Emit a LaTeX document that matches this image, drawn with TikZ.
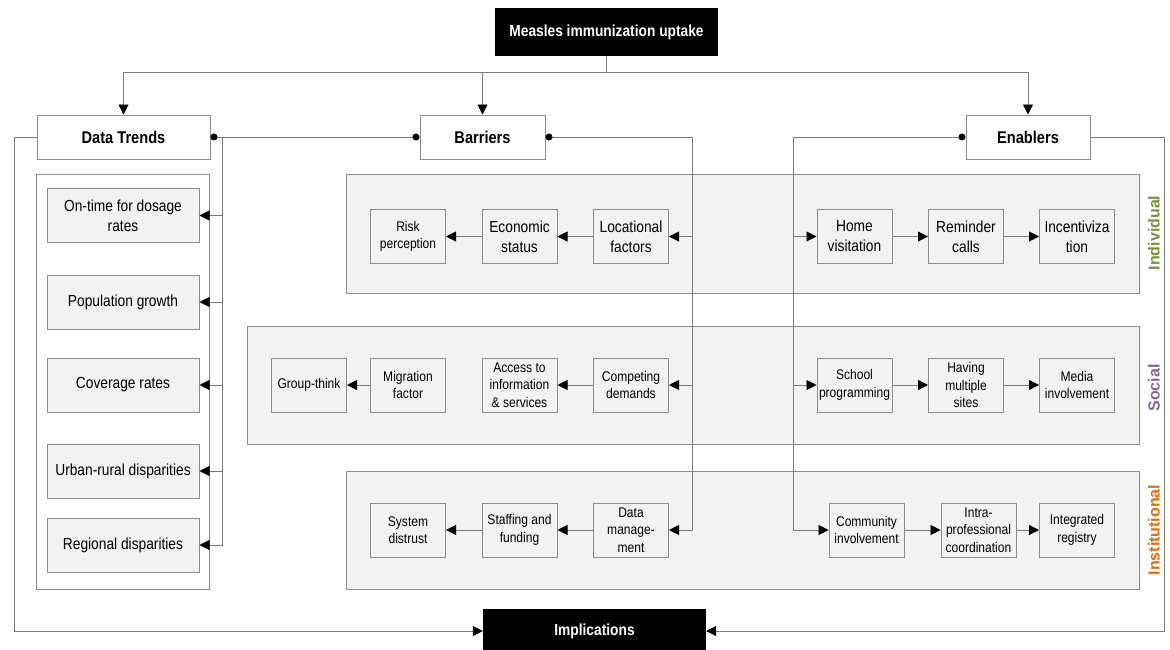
\documentclass[tikz,border=0pt]{standalone}
\usepackage{fontspec}
\setmainfont{Liberation Sans}[FakeStretch=0.86]
\newfontfamily\labelfont{Liberation Sans}
\usetikzlibrary{arrows.meta}
\definecolor{linegray}{HTML}{7A7A7A}
\definecolor{boxgray}{HTML}{8C8C8C}
\definecolor{itemfill}{HTML}{F2F2F2}
\definecolor{indgreen}{HTML}{77933C}
\definecolor{socpurple}{HTML}{8064A2}
\definecolor{instorange}{HTML}{E46C0A}
\tikzset{
  blackbox/.style={fill=black, text=white, inner sep=0pt, font=\bfseries\fontsize{16}{19}\selectfont},
  headbox/.style={draw=boxgray, fill=white, line width=1pt, inner sep=0pt, font=\bfseries\fontsize{17}{20}\selectfont},
  container/.style={draw=boxgray, line width=1pt},
  itembox/.style={draw=boxgray, fill=itemfill, line width=1pt, inner sep=0pt, align=center, minimum width=75pt, minimum height=54pt, font=\fontsize{14}{17.5}\selectfont},
  bigitem/.style={itembox, font=\fontsize{16}{20}\selectfont},
  dtitem/.style={itembox, minimum width=152pt, font=\fontsize{16}{20}\selectfont},
  conn/.style={draw=linegray, line width=0.9pt},
  arr/.style={conn, -{Triangle[length=10pt,width=10pt,black]}},
  dotarr/.style={conn, {Circle[length=7pt,black]}-{Triangle[length=10pt,width=10pt,black]}},
  dotdot/.style={conn, {Circle[length=7pt,black]}-{Circle[length=7pt,black]}},
  sidelabel/.style={rotate=90, font=\labelfont\bfseries\fontsize{16}{16}\selectfont}
}
\begin{document}
\begin{tikzpicture}[x=1pt, y=-1pt]
\useasboundingbox (0,0) rectangle (1170,649);
% containers
\node[container, fill=white, minimum width=173pt, minimum height=415pt, inner sep=0pt] (dtcont) at (122.5,381.5) {};
\node[container, fill=itemfill, minimum width=793pt, minimum height=119pt, inner sep=0pt] (grpInd) at (742.5,233.5) {};
\node[container, fill=itemfill, minimum width=892pt, minimum height=118pt, inner sep=0pt] (grpSoc) at (693,385) {};
\node[container, fill=itemfill, minimum width=793pt, minimum height=118pt, inner sep=0pt] (grpInst) at (742.5,530) {};
% top and head boxes
\node[blackbox, minimum width=223pt, minimum height=48pt] (measles) at (606.5,32) {Measles immunization uptake};
\node[headbox, minimum width=173pt, minimum height=44pt] (dt) at (123.5,137) {Data Trends};
\node[headbox, minimum width=125pt, minimum height=44pt] (barriers) at (482.5,137) {Barriers};
\node[headbox, minimum width=124pt, minimum height=44pt] (enablers) at (1028,137) {Enablers};
\node[blackbox, minimum width=223pt, minimum height=44pt] (impl) at (594.5,631) {Implications};
% data trend items
\node[dtitem] (ontime) at (123,215.5) {On-time for dosage\\rates};
\node[dtitem] (popgrowth) at (123,302) {Population growth};
\node[dtitem] (coverage) at (123,385) {Coverage rates};
\node[dtitem] (urbanrural) at (123,471) {Urban-rural disparities};
\node[dtitem] (regional) at (123,545) {Regional disparities};
% individual row
\node[itembox] (risk) at (408,236.5) {Risk\\perception};
\node[bigitem] (economic) at (519.5,236.5) {Economic\\status};
\node[bigitem] (locational) at (631,236.5) {Locational\\factors};
\node[bigitem] (home) at (854.5,236.5) {Home\\visitation};
\node[bigitem] (reminder) at (966,236.5) {Reminder\\calls};
\node[bigitem] (incent) at (1077,236.5) {Incentiviza\\tion};
% social row
\node[itembox] (groupthink) at (309,385) {Group-think};
\node[itembox] (migration) at (408,385) {Migration\\factor};
\node[itembox] (access) at (519.5,385) {Access to\\information\\\& services};
\node[itembox] (competing) at (631,385) {Competing\\demands};
\node[itembox] (school) at (854.5,385) {School\\programming};
\node[itembox] (multiple) at (966,385) {Having\\multiple\\sites};
\node[itembox] (media) at (1077,385) {Media\\involvement};
% institutional row
\node[itembox] (distrust) at (408,530) {System\\distrust};
\node[itembox] (staffing) at (519.5,530) {Staffing and\\funding};
\node[itembox] (datamgmt) at (631,530) {Data\\manage-\\ment};
\node[itembox] (community) at (866.5,530) {Community\\involvement};
\node[itembox] (intra) at (978.5,530) {Intra-\\professional\\coordination};
\node[itembox] (registry) at (1077,530) {Integrated\\registry};
% side labels
\node[sidelabel, text=indgreen] (lblInd) at (1154,233) {Individual};
\node[sidelabel, text=socpurple] (lblSoc) at (1154,388) {Social};
\node[sidelabel, text=instorange] (lblInst) at (1154,530) {Institutional};
% coordinates
\coordinate (topjoin) at (606.5,72);
\coordinate (dtbus) at (222,137);
\coordinate (barbus) at (692,137);
\coordinate (enbus) at (793,137);
\coordinate (leftout) at (14,137);
\coordinate (rightout) at (1164,137);
% top connectors
\draw[conn] (measles.south) -- (topjoin);
\draw[arr] (topjoin) -| (dt.north);
\draw[arr] (topjoin) -| (barriers.north);
\draw[arr] (topjoin) -| (enablers.north);
% data trends bus
\draw[dotdot] (dt.east) -- (barriers.west);
\draw[conn] (dtbus) |- (regional.east);
\draw[arr] (dtbus |- ontime.east) -- (ontime.east);
\draw[arr] (dtbus |- popgrowth.east) -- (popgrowth.east);
\draw[arr] (dtbus |- coverage.east) -- (coverage.east);
\draw[arr] (dtbus |- urbanrural.east) -- (urbanrural.east);
\draw[arr] (dtbus |- regional.east) -- (regional.east);
% barriers bus
\draw[dotarr] (barriers.east) -- (barbus) |- (datamgmt.east);
\draw[arr] (barbus |- locational.east) -- (locational.east);
\draw[arr] (barbus |- competing.east) -- (competing.east);
% enablers bus
\draw[dotarr] (enablers.west) -- (enbus) |- (community.west);
\draw[arr] (enbus |- home.west) -- (home.west);
\draw[arr] (enbus |- school.west) -- (school.west);
% chains
\draw[arr] (locational.west) -- (economic.east);
\draw[arr] (economic.west) -- (risk.east);
\draw[arr] (competing.west) -- (access.east);
\draw[arr] (migration.west) -- (groupthink.east);
\draw[arr] (datamgmt.west) -- (staffing.east);
\draw[arr] (staffing.west) -- (distrust.east);
\draw[arr] (home.east) -- (reminder.west);
\draw[arr] (reminder.east) -- (incent.west);
\draw[arr] (school.east) -- (multiple.west);
\draw[arr] (multiple.east) -- (media.west);
\draw[arr] (community.east) -- (intra.west);
\draw[arr] (intra.east) -- (registry.west);
% outer lines to implications
\draw[arr] (dt.west) -- (leftout) |- (impl.west);
\draw[arr] (enablers.east) -- (rightout) |- (impl.east);
\end{tikzpicture}
\end{document}
